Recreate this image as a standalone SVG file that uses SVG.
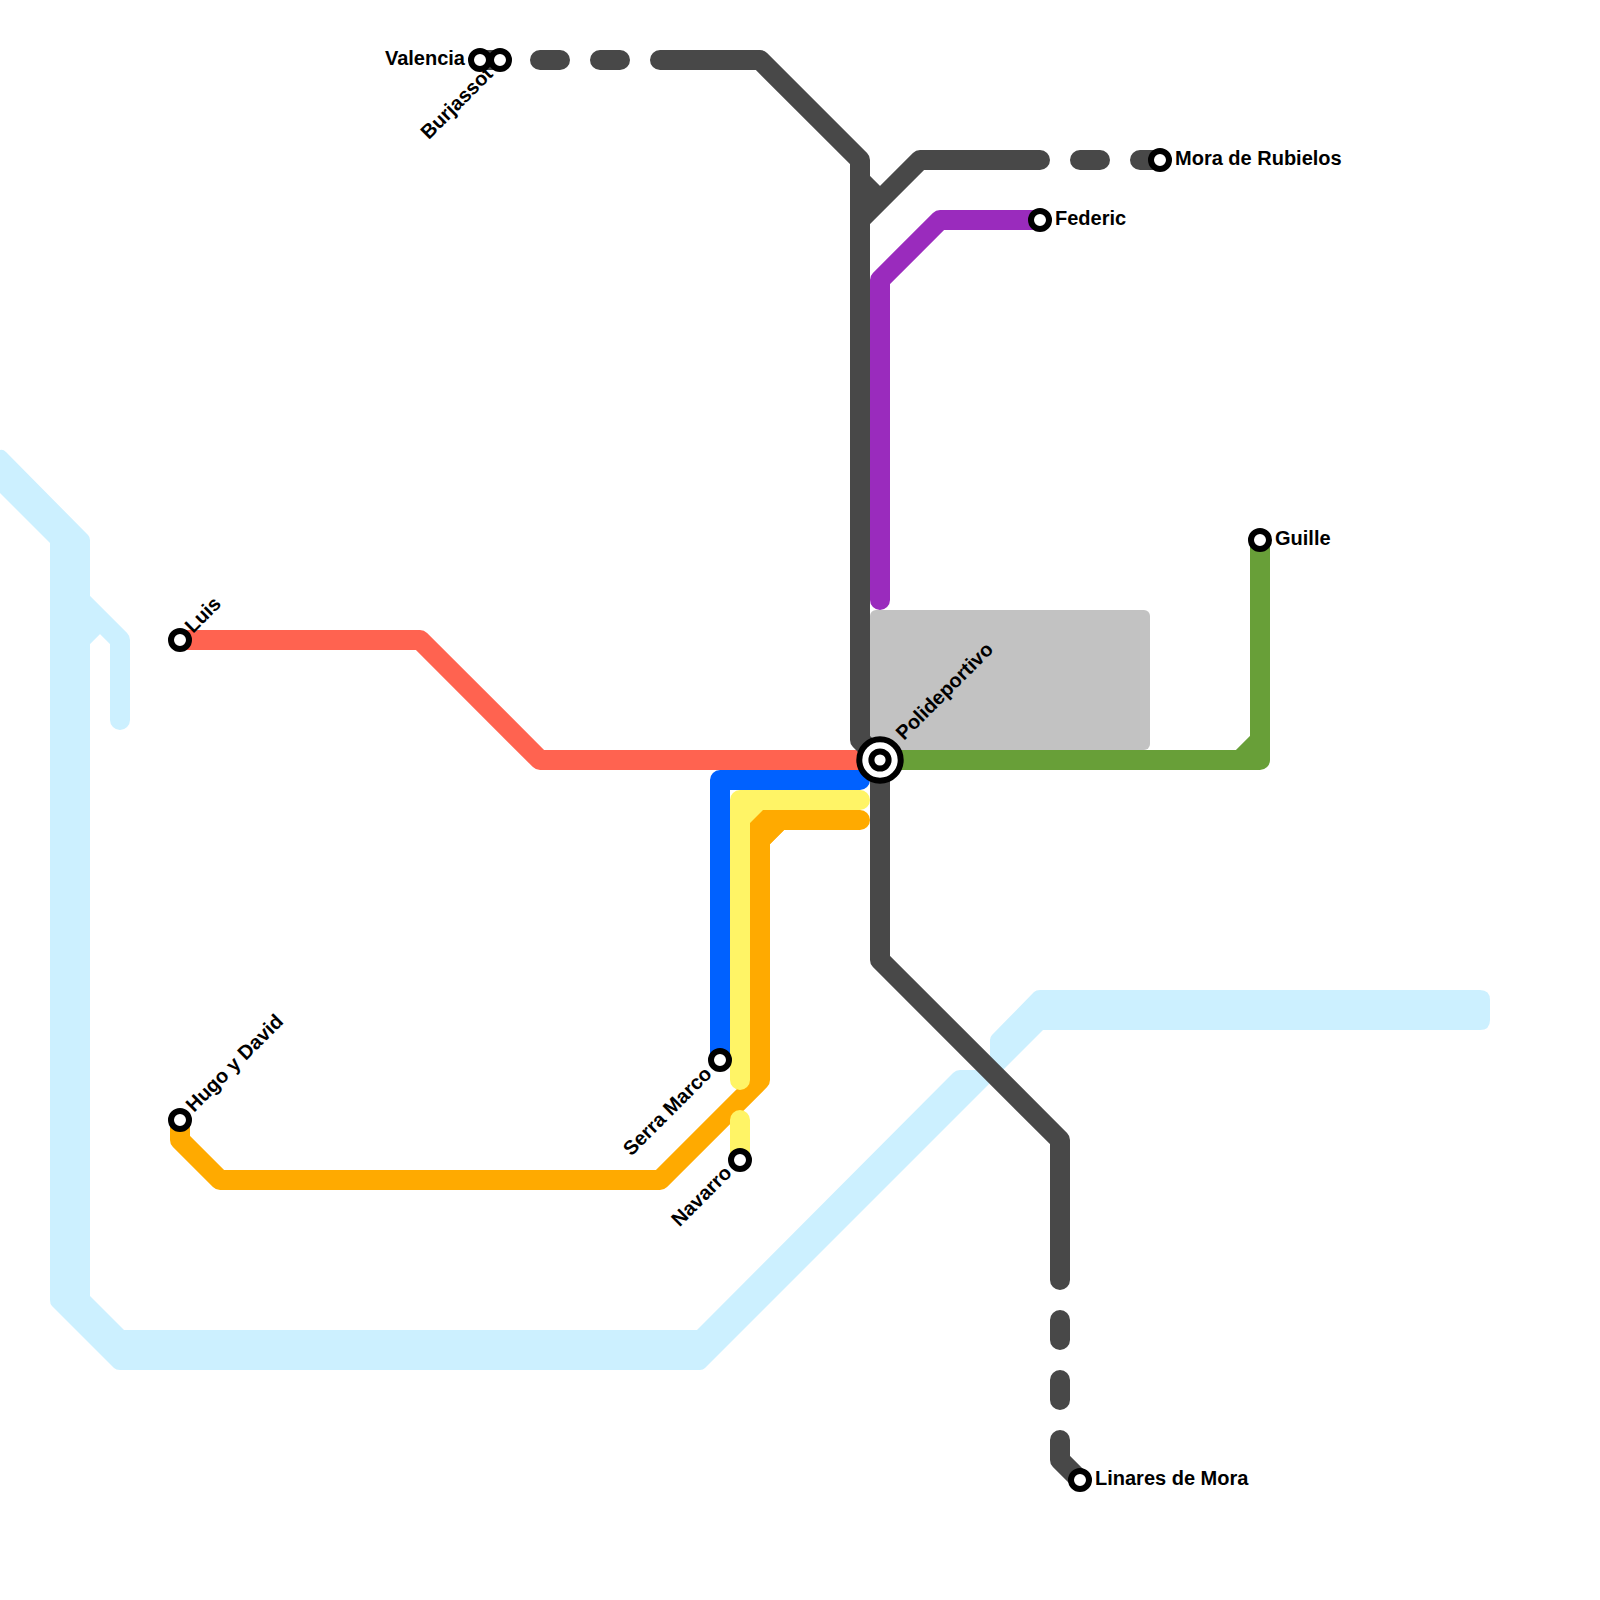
<svg xmlns="http://www.w3.org/2000/svg" width="1600" height="1600" viewBox="0 0 1600 1600">
<style>
.l{fill:none;stroke-width:20;stroke-linecap:round;stroke-linejoin:round}
.dark{stroke:#484848}.red{stroke:#ff6350}.blue{stroke:#0061ff}.yellow{stroke:#fff466}.orange{stroke:#ffaa00}.purple{stroke:#9a2bbd}.green{stroke:#689f38}.sky{stroke:#ccf0ff}
.s{fill:#fff;stroke:#000;stroke-width:6}
text{font-family:"Liberation Sans",Arial,sans-serif;font-weight:700;font-size:20px;fill:#000}
.e{text-anchor:end}
</style>
<g id="connectors">
<path id="river" d="M0 450Q3 449 6 452L88 535Q90 537 90 540L90 1296L124 1330L697 1330L953 1073Q956 1070 960 1070L990 1070L990 1040Q990 1037 992 1035L1034 992Q1036 990 1040 990L1480 990Q1490 990 1490 1000L1490 1020Q1490 1030 1480 1030L1043 1030L705 1368Q703 1370 700 1370L120 1370Q116 1370 114 1368L52 1306Q50 1304 50 1300L50 543L0 493Z" fill="#ccf0ff"/>
<path class="l sky" d="M80 600L120 640V720M80 640L100 620"/>
<rect id="block" x="870" y="610" width="280" height="140" rx="6" fill="#c2c2c2"/>
<path class="l blue" d="M720 1060V780H860"/>
<path d="M750 808H768L750 826Z" fill="#fff466"/>
<path class="l orange" d="M860 820H780L760 840V1080L660 1180H220L180 1140V1120"/>
<path d="M750 823L763 810H790V830H784L770 844V850H750Z" fill="#ffaa00"/>
<path class="l yellow" d="M860 800H740V1080M740 1120V1160"/>
<path class="l purple" d="M880 600V280L940 220H1040"/>
<path class="l green" d="M880 760H1260V540M1240 760L1260 740"/>
<path class="l red" d="M180 640H420L540 760H880"/>
<path class="l dark" d="M480 60H500M540 60H560M600 60H620M660 60H760L860 160V740L880 760V960L1060 1140V1280M1060 1320V1340M1060 1380V1400M1060 1440V1460L1080 1480M860 180L880 200M860 220L920 160H1040M1080 160H1100M1140 160H1160"/>
</g>
<g id="valencia"><circle class="s" cx="480" cy="60" r="9"/><text class="e" x="465" y="65">Valencia</text></g>
<g id="burjassot"><circle class="s" cx="500" cy="60" r="9"/><text class="e" transform="translate(494 75) rotate(-45)">Burjassot</text></g>
<g id="mora"><circle class="s" cx="1160" cy="160" r="9"/><text x="1175" y="165">Mora de Rubielos</text></g>
<g id="federic"><circle class="s" cx="1040" cy="220" r="9"/><text x="1055" y="225">Federic</text></g>
<g id="guille"><circle class="s" cx="1260" cy="540" r="9"/><text x="1275" y="545">Guille</text></g>
<g id="luis"><circle class="s" cx="180" cy="640" r="9"/><text transform="translate(193 634) rotate(-45)">Luis</text></g>
<g id="hugo"><circle class="s" cx="180" cy="1120" r="9"/><text transform="translate(194 1113) rotate(-45)">Hugo y David</text></g>
<g id="serra"><circle class="s" cx="720" cy="1060" r="9"/><text class="e" transform="translate(713 1075) rotate(-45)">Serra Marco</text></g>
<g id="navarro"><circle class="s" cx="740" cy="1160" r="9"/><text class="e" transform="translate(733 1174) rotate(-45)">Navarro</text></g>
<g id="linares"><circle class="s" cx="1080" cy="1480" r="9"/><text x="1095" y="1485">Linares de Mora</text></g>
<g id="polideportivo"><circle class="s" cx="880" cy="760" r="20.7"/><circle class="s" cx="880" cy="760" r="8.6"/><text transform="translate(904 741) rotate(-45)">Polideportivo</text></g>
</svg>
